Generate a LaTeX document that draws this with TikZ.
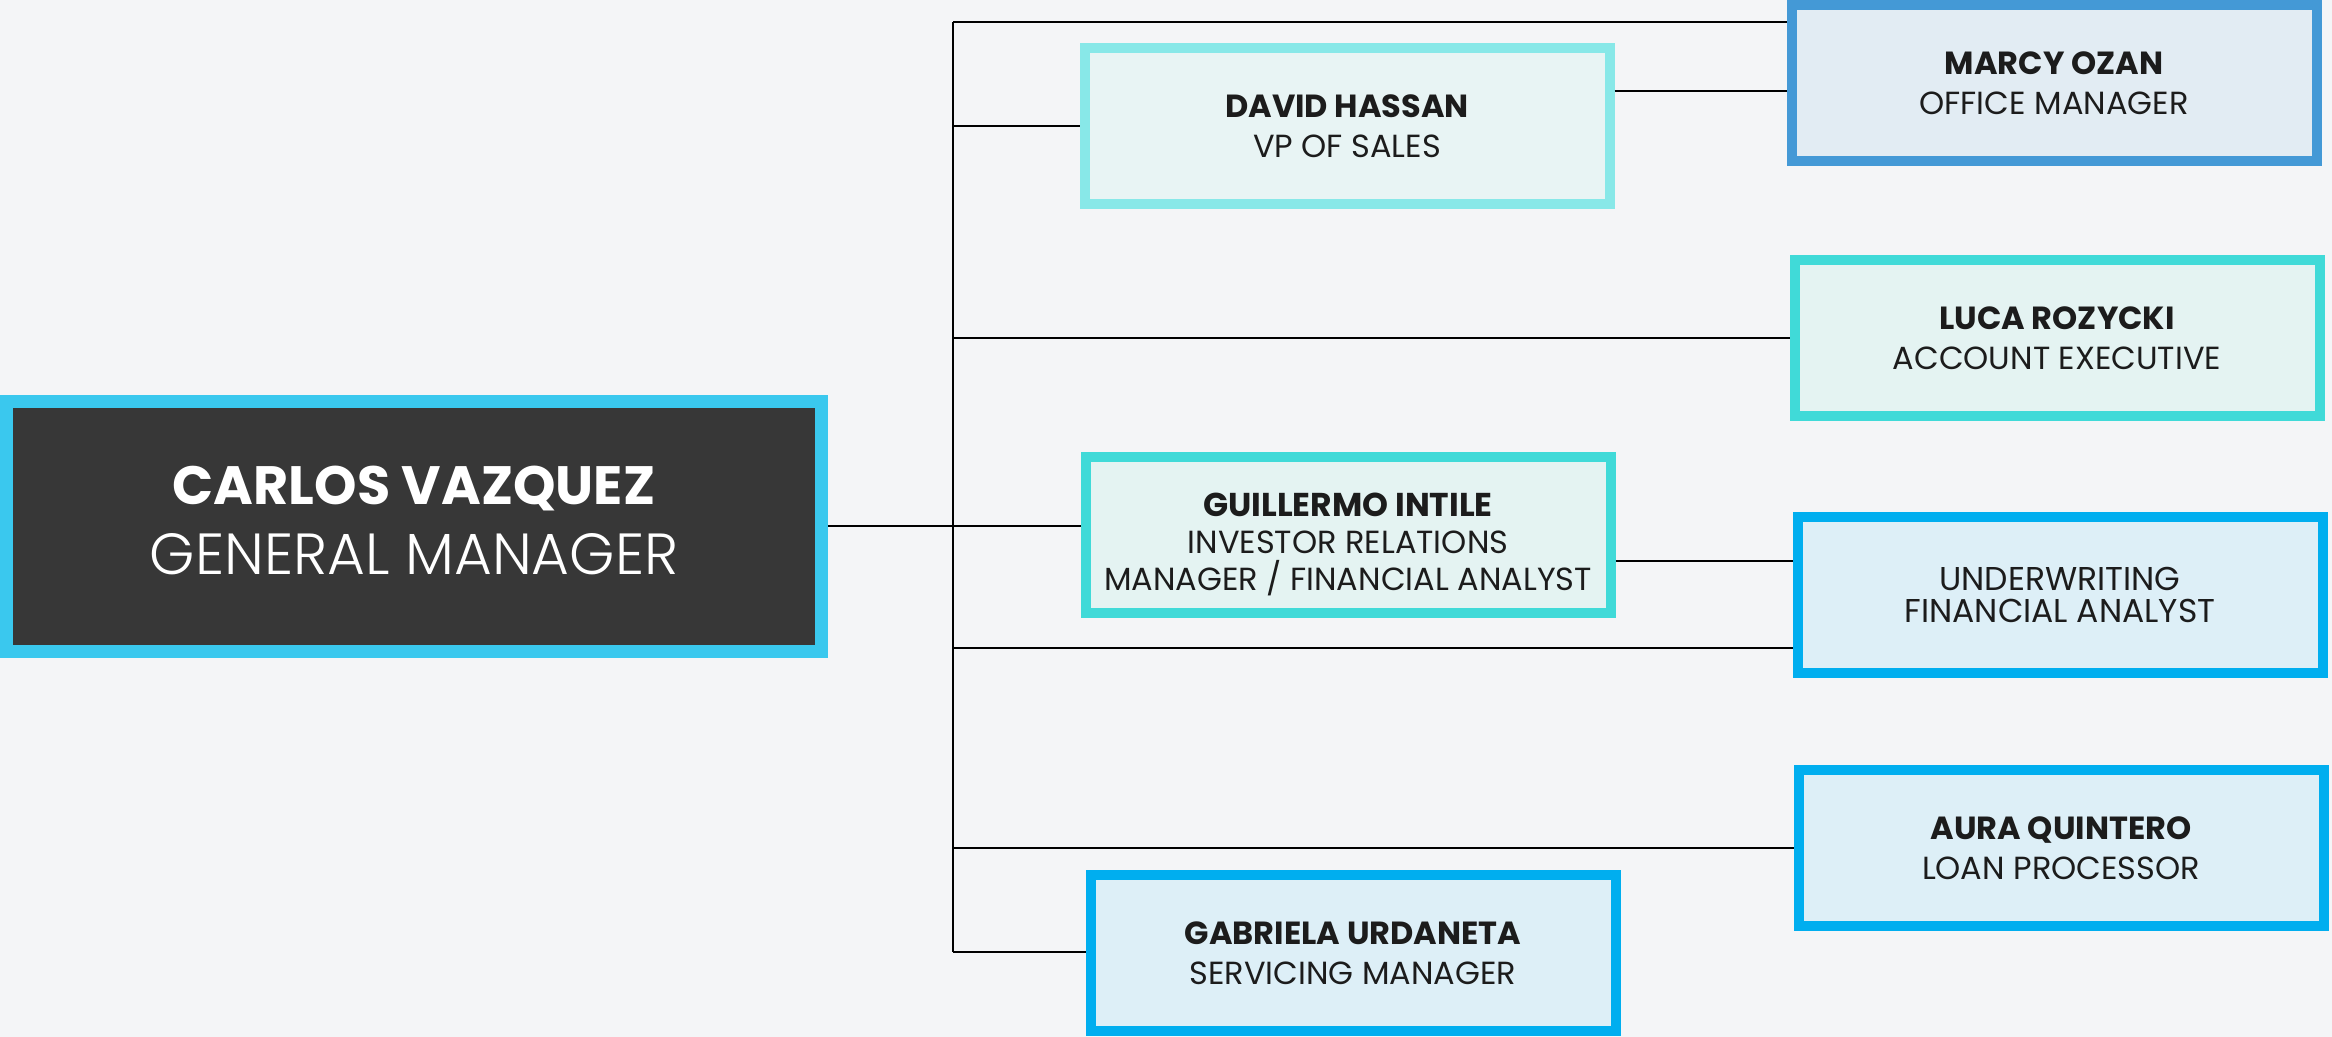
\documentclass[tikz,border=0pt]{standalone}
\usepackage{fontspec}
\setmainfont{Poppins}
\newfontfamily\lightfont{Poppins Light}
\definecolor{bgcol}{HTML}{F4F5F7}
\definecolor{textdark}{HTML}{1C1C1C}
\definecolor{gmborder}{HTML}{3AC8EE}
\definecolor{gmfill}{HTML}{373737}
\definecolor{vpborder}{HTML}{88E8E8}
\definecolor{vpfill}{HTML}{E8F4F4}
\definecolor{omborder}{HTML}{4499D6}
\definecolor{omfill}{HTML}{E2ECF3}
\definecolor{tqborder}{HTML}{40DAD8}
\definecolor{tqfill}{HTML}{E4F3F2}
\definecolor{blborder}{HTML}{00AEEF}
\definecolor{blfill}{HTML}{DDEFF7}
\newcommand\pname[1]{{\fontsize{16}{20}\selectfont\bfseries #1}}

\begin{document}
\begin{tikzpicture}[x=0.5pt,y=-0.5pt,
  person/.style={draw,shape=rectangle,line width=5pt,minimum width=262.5pt,
    minimum height=78pt,align=center,text=textdark,font=\fontsize{16}{20}\selectfont},
  link/.style={line width=0.75pt,black}]

  \fill[bgcol] (0,0) rectangle (2332,1037);
  \useasboundingbox (0,0) rectangle (2332,1037);

  \node[draw=gmborder,fill=gmfill,line width=6.5pt,minimum width=407.5pt,minimum height=125pt,
    align=center,text=white,font=\fontsize{27}{35}\selectfont] (gm) at (414,526)
    {\textbf{CARLOS VAZQUEZ}\\{\lightfont\fontsize{29}{35}\selectfont GENERAL MANAGER}\rule[-6pt]{0pt}{0pt}};

  \node[person,draw=vpborder,fill=vpfill] (vp) at (1347,126) {\pname{DAVID HASSAN}\\VP OF SALES};
  \node[person,draw=omborder,fill=omfill] (om) at (2054,83) {\pname{MARCY OZAN}\\OFFICE MANAGER};
  \node[person,draw=tqborder,fill=tqfill] (ae) at (2057,338) {\pname{LUCA ROZYCKI}\\ACCOUNT EXECUTIVE};
  \node[person,draw=tqborder,fill=tqfill,font=\fontsize{16}{18.5}\selectfont] (ir) at (1348,535)
    {\rule{0pt}{21pt}{\fontsize{16.5}{18.5}\selectfont\bfseries GUILLERMO INTILE}\\INVESTOR RELATIONS\\MANAGER / FINANCIAL ANALYST};
  \node[person,draw=blborder,fill=blfill,font=\fontsize{16.5}{16}\selectfont] (uw) at (2060,595)
    {UNDERWRITING\\FINANCIAL ANALYST};
  \node[person,draw=blborder,fill=blfill] (lp) at (2061,848) {\pname{AURA QUINTERO}\\LOAN PROCESSOR};
  \node[person,draw=blborder,fill=blfill] (sm) at (1353,953) {\pname{GABRIELA URDANETA}\\SERVICING MANAGER};

  \coordinate (top) at (953,22);
  \coordinate (bot) at (953,952);

  \draw[link] (top) -- (bot);
  \draw[link] (top) -- (top -| om.west);
  \draw[link] ([yshift=17.5pt]vp.east) -- ([yshift=17.5pt]vp.east -| om.west);
  \draw[link] (top |- vp.west) -- (vp.west);
  \draw[link] (top |- ae.west) -- (ae.west);
  \draw[link] (gm.east) -- (gm.east -| ir.west);
  \draw[link] ([yshift=-13pt]ir.east) -- ([yshift=-13pt]ir.east -| uw.west);
  \draw[link] ([yshift=-26.5pt]uw.west -| top) -- ([yshift=-26.5pt]uw.west);
  \draw[link] (top |- lp.west) -- (lp.west);
  \draw[link] (bot) -- (bot -| sm.west);

\end{tikzpicture}
\end{document}
